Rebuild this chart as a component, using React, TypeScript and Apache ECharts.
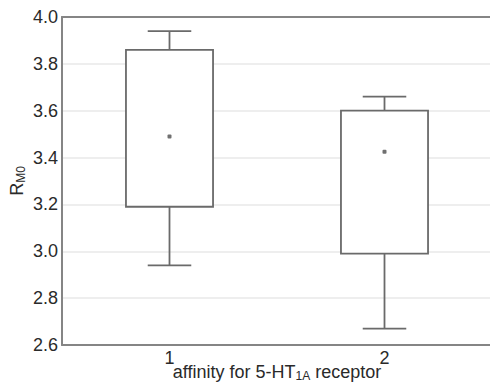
import React, { useEffect, useRef } from "react";
import * as echarts from "echarts";

const categories = ["1", "2"];
const lowerWhisker = [2.94, 2.67];
const q1 = [3.19, 2.99];
const q3 = [3.86, 3.6];
const upperWhisker = [3.94, 3.66];
const means = [3.49, 3.425];
const yTicks = [2.6, 2.8, 3.0, 3.2, 3.4, 3.6, 3.8, 4.0];

const LINE = "#6a6a6a";
const AXIS = "#858585";
const TXT = "#2a2a2a";
const FONT = "Liberation Sans, Arial, sans-serif";

export default function App() {
  const ref = useRef<HTMLDivElement>(null);
  useEffect(() => {
    if (!ref.current) return;
    const chart = echarts.init(ref.current, undefined, { renderer: "svg" });
    const data = categories.map((_, i) => [i, lowerWhisker[i], q1[i], q3[i], upperWhisker[i], means[i]]);
    chart.setOption({
      animation: false,
      textStyle: { fontFamily: FONT },
      grid: { left: 62, top: 17, width: 430, bottom: 37, outerBoundsMode: "none", containLabel: false },
      xAxis: [
        {
          type: "category",
          data: categories,
          boundaryGap: true,
          position: "bottom",
          axisLine: { lineStyle: { color: AXIS, width: 2 } },
          axisTick: { alignWithLabel: true, inside: true, length: 3, lineStyle: { color: AXIS } },
          axisLabel: { fontSize: 18, color: TXT, margin: 4, fontFamily: FONT },
          splitLine: { show: false },
          name: "{a|affinity for 5-HT}{s|1A}{a| receptor}",
          nameLocation: "middle",
          nameGap: 18,
          nameMoveOverlap: false,
          nameTextStyle: {
            lineHeight: 18,
            rich: {
              a: { fontSize: 18, color: TXT, fontFamily: FONT, lineHeight: 18 },
              s: { fontSize: 12, color: TXT, fontFamily: FONT, lineHeight: 12, padding: [7, 0, 0, 0] },
            },
          },
        },
        {
          type: "category",
          data: categories,
          boundaryGap: true,
          position: "top",
          axisLine: { lineStyle: { color: AXIS, width: 2 } },
          axisTick: { alignWithLabel: true, inside: true, length: 3, lineStyle: { color: AXIS } },
          axisLabel: { show: false },
          splitLine: { show: false },
        },
      ],
      yAxis: {
        type: "value",
        min: yTicks[0],
        max: yTicks[yTicks.length - 1],
        interval: 0.2,
        axisLine: { show: true, lineStyle: { color: AXIS, width: 2 } },
        axisTick: { show: false },
        axisLabel: {
          fontSize: 18,
          color: TXT,
          margin: 4,
          fontFamily: FONT,
          formatter: (v: number) => v.toFixed(1),
        },
        splitLine: { lineStyle: { color: "#e8e8e8", width: 1.5 } },
        name: "{a|R}{s|M0}",
        nameLocation: "middle",
        nameGap: 35,
        nameRotate: 90,
        nameMoveOverlap: false,
        nameTextStyle: {
          rich: {
            a: { fontSize: 18, color: TXT, fontFamily: FONT },
            s: { fontSize: 12, color: TXT, fontFamily: FONT, padding: [9, 0, 0, 0] },
          },
        },
      },
      series: [
        {
          type: "custom",
          xAxisIndex: 0,
          data,
          encode: { x: 0, y: [1, 2, 3, 4, 5] },
          renderItem: (params: any, api: any) => {
            const x = api.value(0);
            const pLo = api.coord([x, api.value(1)]);
            const pQ1 = api.coord([x, api.value(2)]);
            const pQ3 = api.coord([x, api.value(3)]);
            const pHi = api.coord([x, api.value(4)]);
            const pM = api.coord([x, api.value(5)]);
            const band = api.size([1, 0])[0];
            const bw = band * 0.405;
            const cw = bw / 2;
            const cx = pLo[0];
            const ls = { stroke: LINE, lineWidth: 1.8, fill: null };
            return {
              type: "group",
              children: [
                { type: "line", shape: { x1: cx, y1: pQ3[1], x2: cx, y2: pHi[1] }, style: ls },
                { type: "line", shape: { x1: cx - cw / 2, y1: pHi[1], x2: cx + cw / 2, y2: pHi[1] }, style: ls },
                { type: "line", shape: { x1: cx, y1: pQ1[1], x2: cx, y2: pLo[1] }, style: ls },
                { type: "line", shape: { x1: cx - cw / 2, y1: pLo[1], x2: cx + cw / 2, y2: pLo[1] }, style: ls },
                {
                  type: "rect",
                  shape: { x: cx - bw / 2, y: pQ3[1], width: bw, height: pQ1[1] - pQ3[1] },
                  style: { stroke: LINE, lineWidth: 1.8, fill: "#ffffff" },
                },
                {
                  type: "rect",
                  shape: { x: cx - 2, y: pM[1] - 2, width: 4, height: 4, r: 1 },
                  style: { fill: "#707070" },
                },
              ],
            };
          },
        },
      ],
    });
    return () => chart.dispose();
  }, []);
  return <div ref={ref} style={{ width: 490, height: 382, position: "absolute", left: 0, top: 0, background: "#fff" }} />;
}
